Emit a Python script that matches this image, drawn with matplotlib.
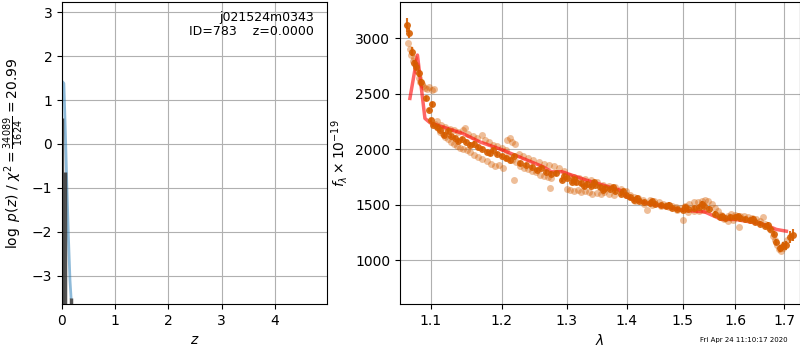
import matplotlib
matplotlib.use("Agg")
import matplotlib.pyplot as plt
from matplotlib.ticker import ScalarFormatter, NullLocator

# p(z) panel
pz_z = [0.02, 0.035, 0.06, 0.09, 0.12, 0.15, 0.17]
pz_logp = [1.40, 1.38, 0.40, -0.90, -2.10, -3.10, -3.50]
bar_z = [0.025, 0.06, 0.17]
bar_top = [0.60, -0.65, -3.50]
bar_width = [1.0, 2.5, 2.5]

# combined spectrum (dark points)
spec_wave = [1.068, 1.071, 1.075, 1.077, 1.080, 1.084, 1.087, 1.093, 1.097, 1.101,
             1.100, 1.103, 1.108, 1.113, 1.118, 1.123, 1.128, 1.133, 1.138, 1.143,
             1.149, 1.154, 1.160, 1.166, 1.172, 1.178, 1.183, 1.187, 1.193, 1.200,
             1.207, 1.212, 1.218, 1.227, 1.237, 1.246, 1.253, 1.260, 1.267, 1.275,
             1.283, 1.293, 1.300, 1.308, 1.316, 1.324, 1.333, 1.340, 1.346, 1.355,
             1.363, 1.372, 1.380, 1.390, 1.398, 1.405, 1.413, 1.422, 1.430, 1.440,
             1.450, 1.460, 1.470, 1.480, 1.490, 1.500, 1.510, 1.520, 1.530, 1.540,
             1.550, 1.560, 1.570, 1.580, 1.590, 1.600, 1.610, 1.620, 1.630, 1.640,
             1.650, 1.660, 1.670, 1.678, 1.683, 1.690, 1.697, 1.704, 1.712, 1.719,
             1.296, 1.312, 1.328, 1.344, 1.360, 1.376, 1.394, 1.418, 1.445, 1.475,
             1.505, 1.535, 1.575, 1.605, 1.635, 1.665]
spec_flux = [3117, 3042, 2877, 2772, 2742, 2682, 2607, 2457, 2352, 2403,
             2261, 2216, 2200, 2175, 2130, 2160, 2120, 2100, 2075, 2090,
             2066, 2040, 2050, 2015, 2000, 1975, 1961, 1991, 1955, 1940,
             1916, 1901, 1940, 1871, 1856, 1841, 1811, 1830, 1796, 1780,
             1781, 1721, 1740, 1706, 1700, 1691, 1690, 1670, 1676, 1655,
             1646, 1640, 1625, 1600, 1585, 1565, 1545, 1535, 1525, 1515,
             1505, 1495, 1485, 1470, 1460, 1450, 1465, 1470, 1480, 1490,
             1465, 1420, 1390, 1380, 1385, 1390, 1380, 1370, 1360, 1345,
             1330, 1310, 1285, 1240, 1165, 1108, 1130, 1135, 1210, 1225,
             1760, 1730, 1665, 1700, 1630, 1660, 1620, 1560, 1530, 1500,
             1480, 1510, 1400, 1400, 1375, 1320]
spec_err = [65, 45, 40, 35, 30, 30, 25, 25, 20, 20,
            20, 20, 20, 20, 20, 20, 20, 20, 20, 20,
            20, 20, 20, 20, 20, 20, 20, 20, 20, 20,
            20, 20, 20, 20, 20, 20, 20, 20, 20, 20,
            20, 20, 20, 20, 20, 20, 20, 20, 20, 20,
            20, 20, 20, 20, 20, 20, 20, 20, 20, 20,
            20, 20, 20, 20, 20, 20, 20, 20, 20, 20,
            20, 20, 20, 20, 20, 20, 20, 20, 20, 20,
            20, 20, 25, 25, 30, 30, 35, 40, 55, 55,
            20, 20, 20, 20, 20, 20, 20, 20, 20, 20,
            20, 20, 20, 20, 20, 25]

# individual beams (light points)
beam_wave = [1.069, 1.072, 1.074, 1.076, 1.078, 1.080, 1.082, 1.084, 1.086, 1.088,
             1.090, 1.092, 1.095, 1.098, 1.101, 1.104,
             1.106, 1.110, 1.112, 1.116, 1.120, 1.124, 1.128, 1.132, 1.136, 1.140,
             1.145, 1.150, 1.155, 1.160, 1.166, 1.172, 1.178, 1.184, 1.190, 1.196, 1.202,
             1.108, 1.114, 1.120, 1.126, 1.132, 1.138, 1.144, 1.147, 1.152, 1.158,
             1.164, 1.171, 1.176, 1.182, 1.188, 1.194, 1.200, 1.206,
             1.208, 1.212, 1.216, 1.220, 1.219,
             1.210, 1.216, 1.222, 1.228, 1.234, 1.240, 1.246, 1.252, 1.258, 1.264,
             1.270, 1.276, 1.273,
             1.226, 1.232, 1.240, 1.248, 1.256, 1.264, 1.272, 1.280, 1.288, 1.296,
             1.300, 1.306, 1.312, 1.318, 1.324, 1.330, 1.336, 1.342, 1.350, 1.356,
             1.362, 1.370, 1.378,
             1.304, 1.312, 1.320, 1.330, 1.340, 1.350, 1.360, 1.370, 1.380, 1.390, 1.398,
             1.405, 1.412, 1.420, 1.428, 1.436, 1.440, 1.448, 1.456, 1.464, 1.472,
             1.480, 1.488, 1.496, 1.500,
             1.415, 1.430, 1.445, 1.460, 1.475, 1.490,
             1.505, 1.512, 1.520, 1.528, 1.535, 1.542, 1.548, 1.554,
             1.510, 1.520, 1.530, 1.540,
             1.560, 1.566, 1.572, 1.578, 1.585, 1.592, 1.600, 1.607, 1.610, 1.618,
             1.626, 1.634, 1.642, 1.650, 1.655, 1.660, 1.666, 1.672, 1.585, 1.595,
             1.676, 1.680, 1.684, 1.688, 1.692, 1.696, 1.700, 1.706]
beam_flux = [2960, 2900, 2850, 2790, 2820, 2760, 2700, 2640, 2600, 2590,
             2570, 2550, 2540, 2560, 2530, 2545,
             2230, 2190, 2150, 2140, 2110, 2090, 2060, 2050, 2030, 2010,
             2000, 1990, 1970, 1950, 1930, 1910, 1890, 1870, 1850, 1860, 1830,
             2250, 2220, 2200, 2180, 2170, 2150, 2170, 2187, 2140, 2120,
             2100, 2126, 2080, 2060, 2040, 2030, 2010, 1990,
             2080, 2100, 2060, 2050, 1721,
             1940, 1900, 1880, 1850, 1830, 1820, 1800, 1790, 1770, 1760,
             1750, 1740, 1646,
             1960, 1940, 1920, 1900, 1880, 1870, 1860, 1850, 1830, 1800,
             1640, 1630, 1620, 1630, 1615, 1620, 1610, 1600, 1605, 1595,
             1610, 1600, 1590,
             1760, 1750, 1740, 1730, 1720, 1700, 1680, 1670, 1660, 1640, 1620,
             1590, 1570, 1560, 1545, 1450, 1540, 1530, 1520, 1510, 1500,
             1490, 1480, 1470, 1360,
             1530, 1510, 1500, 1490, 1475, 1455,
             1490, 1510, 1520, 1525, 1530, 1545, 1530, 1510,
             1430, 1440, 1445, 1450,
             1470, 1440, 1410, 1370, 1400, 1420, 1410, 1300, 1400, 1395,
             1390, 1380, 1370, 1350, 1390, 1330, 1300, 1270, 1350, 1360,
             1220, 1180, 1140, 1100, 1080, 1110, 1150, 1180]

# model
model_wave = [1.072, 1.082, 1.092, 1.099, 1.144, 1.168, 1.202, 1.263, 1.276, 1.293,
              1.332, 1.388, 1.399, 1.422, 1.458, 1.499, 1.541, 1.573, 1.600, 1.629,
              1.663, 1.683, 1.704]
model_flux = [2457, 2847, 2277, 2237, 2141, 2066, 1991, 1841, 1796, 1796,
              1721, 1631, 1570, 1528, 1490, 1450, 1435, 1367, 1367, 1345,
              1315, 1277, 1261]

orange = (0.84, 0.37, 0.0)

fig = plt.figure(figsize=(8, 3.5), dpi=100)
ax1 = fig.add_axes([0.0775, 0.131, 0.331, 0.863])
ax2 = fig.add_axes([0.5, 0.131, 0.4995, 0.863])

# left: p(z)
ax1.plot(pz_z, pz_logp, color='tab:blue', alpha=0.5, lw=2)
ax1.vlines(bar_z, -3.65, bar_top, colors='0.2', linewidths=bar_width, alpha=0.85)
ax1.set_xlim(0, 4.98)
ax1.set_ylim(-3.65, 3.23)
ax1.set_xticks(range(5))
ax1.set_yticks(range(-3, 4))
ax1.grid(True)
ax1.set_xlabel(r'$z$')
ax1.set_ylabel(r'$\log\ p(z)$ / $\chi^2=\frac{34089}{1624}=20.99$')
ax1.text(0.95, 0.97, 'j021524m0343\nID=783    z=0.0000', transform=ax1.transAxes,
         ha='right', va='top', fontsize=9, linespacing=1.1)

# right: spectrum
ax2.plot(beam_wave, beam_flux, 'o', color=orange, alpha=0.4, ms=5, mew=0)
ax2.errorbar(spec_wave, spec_flux, yerr=spec_err, fmt='o', color=orange,
             ms=5, mew=0, elinewidth=1.5, alpha=0.9)
ax2.plot(model_wave, model_flux, color='red', alpha=0.6, lw=2.5)
ax2.set_xscale('log')
ax2.set_xlim(1.059, 1.732)
ax2.set_ylim(604, 3324)
ax2.set_xticks([1.1, 1.2, 1.3, 1.4, 1.5, 1.6, 1.7])
ax2.xaxis.set_major_formatter(ScalarFormatter())
ax2.xaxis.set_minor_locator(NullLocator())
ax2.set_yticks([1000, 1500, 2000, 2500, 3000])
ax2.grid(True)
ax2.set_xlabel(r'$\lambda$')
ax2.set_ylabel(r'$f_\lambda\times 10^{-19}$')

fig.text(0.985, 0.028, 'Fri Apr 24 11:10:17 2020', fontsize=5, ha='right', va='center')

fig.savefig('out.png', dpi=100)
